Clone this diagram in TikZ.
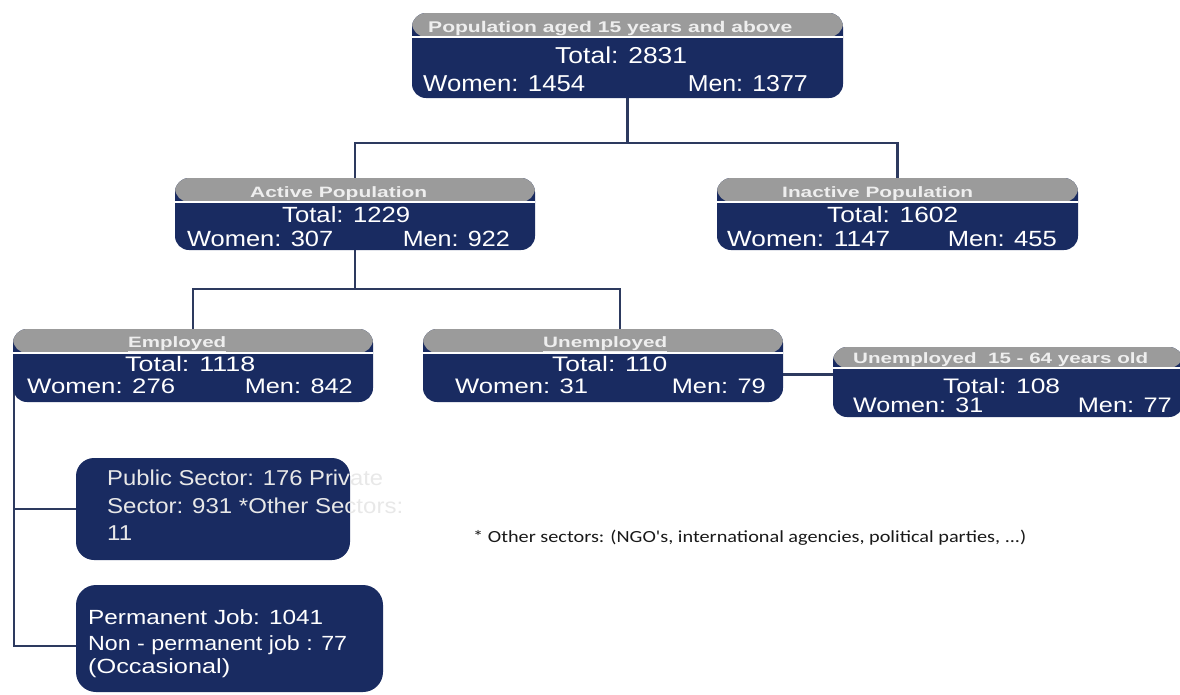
\documentclass[tikz,border=0pt]{standalone}
\usepackage{fontspec}
\usepackage{graphicx}
\setmainfont{Liberation Sans}
\newfontfamily\notefont{Carlito}
\usetikzlibrary{backgrounds}
\definecolor{navy}{RGB}{25,43,97}
\definecolor{hdrgray}{RGB}{155,155,155}
\definecolor{hdrtext}{RGB}{238,238,238}
\definecolor{conn}{RGB}{45,58,95}
\definecolor{notetext}{RGB}{25,25,25}
\newcommand{\fitw}[2]{\resizebox{#1}{\height}{#2}}
\tikzset{
  navybox/.style={fill=navy, rounded corners=14pt, inner sep=0pt, draw=none},
  hdr/.style={path picture={
      \fill[hdrgray] ([yshift=2pt]path picture bounding box.north west) rectangle ([yshift=-#1]path picture bounding box.north east);
      \draw[white, line width=1.2pt] ([yshift=-#1]path picture bounding box.north west) -- ([yshift=-#1]path picture bounding box.north east);}},
  hd/.style={inner sep=0pt, text=hdrtext, font=\bfseries\fontsize{15}{17}\selectfont},
  txt/.style={inner sep=0pt, text=white},
  conn/.style={draw=conn, line width=2.3pt},
}
\begin{document}
\begin{tikzpicture}[x=1pt, y=-1pt]
\useasboundingbox (0,0) rectangle (1180,694);
% top box
\node[navybox, hdr=24pt, minimum width=431pt, minimum height=85pt] (top) at (627.5,55.5) {};
\node[hd, anchor=base west, font=\bfseries\fontsize{15.5}{17}\selectfont] (tophd) at (428,32) {\fitw{364pt}{Population aged 15 years and above}};
\node[txt, anchor=base west, font=\fontsize{23}{27}\selectfont] (toptot) at (555,63) {\fitw{132pt}{Total: 2831}};
\node[txt, anchor=base west, font=\fontsize{23}{27}\selectfont] (topw) at (423,91) {\fitw{162pt}{Women: 1454}};
\node[txt, anchor=base east, font=\fontsize{23}{27}\selectfont] (topm) at (808,91) {\fitw{120pt}{Men: 1377}};
% active
\node[navybox, hdr=24pt, minimum width=360pt, minimum height=72pt] (active) at (355,214) {};
\node[hd, anchor=base west] (acthd) at (250,197) {\fitw{177pt}{Active Population}};
\node[txt, anchor=base west, font=\fontsize{22}{26}\selectfont] (acttot) at (282,222) {\fitw{128pt}{Total: 1229}};
\node[txt, anchor=base west, font=\fontsize{22}{26}\selectfont] (actw) at (187,246) {\fitw{146pt}{Women: 307}};
\node[txt, anchor=base east, font=\fontsize{22}{26}\selectfont] (actm) at (510,246) {\fitw{107pt}{Men: 922}};
% inactive
\node[navybox, hdr=24pt, minimum width=361pt, minimum height=72pt] (inactive) at (897.5,214) {};
\node[hd, anchor=base west] (inahd) at (782,197) {\fitw{191pt}{Inactive Population}};
\node[txt, anchor=base west, font=\fontsize{22}{26}\selectfont] (inatot) at (827,222) {\fitw{131pt}{Total: 1602}};
\node[txt, anchor=base west, font=\fontsize{22}{26}\selectfont] (inaw) at (727,246) {\fitw{163pt}{Women: 1147}};
\node[txt, anchor=base east, font=\fontsize{22}{26}\selectfont] (inam) at (1057,246) {\fitw{109pt}{Men: 455}};
% employed
\node[navybox, hdr=24pt, minimum width=360pt, minimum height=73pt] (employed) at (193,365.5) {};
\node[hd, anchor=base west] (emphd) at (128,347) {\fitw{98pt}{\underline{Employed}}};
\node[txt, anchor=base west, font=\fontsize{21}{25}\selectfont] (emptot) at (125,371) {\fitw{130pt}{Total: 1118}};
\node[txt, anchor=base west, font=\fontsize{21}{25}\selectfont] (empw) at (27,393) {\fitw{148pt}{Women: 276}};
\node[txt, anchor=base east, font=\fontsize{21}{25}\selectfont] (empm) at (353,393) {\fitw{108pt}{Men: 842}};
% unemployed
\node[navybox, hdr=24pt, minimum width=360pt, minimum height=73pt] (unemployed) at (603,365.5) {};
\node[hd, anchor=base west] (unhd) at (543,347) {\fitw{124pt}{\underline{Unemployed}}};
\node[txt, anchor=base west, font=\fontsize{21}{25}\selectfont] (untot) at (552,371) {\fitw{115pt}{Total: 110}};
\node[txt, anchor=base west, font=\fontsize{21}{25}\selectfont] (unw) at (455,393) {\fitw{133pt}{Women: 31}};
\node[txt, anchor=base east, font=\fontsize{21}{25}\selectfont] (unm) at (766,393) {\fitw{94pt}{Men: 79}};
% unemployed 15-64
\node[navybox, hdr=21pt, minimum width=350pt, minimum height=70pt] (ufift) at (1008,382) {};
\node[hd, anchor=base west] (u15hd) at (853,363) {\fitw{295pt}{Unemployed~~15 - 64 years old}};
\node[txt, anchor=base west, font=\fontsize{21}{25}\selectfont] (u15tot) at (943,393) {\fitw{117pt}{Total: 108}};
\node[txt, anchor=base west, font=\fontsize{21}{25}\selectfont] (u15w) at (853,412) {\fitw{130pt}{Women: 31}};
\node[txt, anchor=base east, font=\fontsize{21}{25}\selectfont] (u15m) at (1172,412) {\fitw{94pt}{Men: 77}};
% sector box
\node[navybox, rounded corners=18pt, minimum width=274pt, minimum height=102pt] (sector) at (213,509) {};
\node[txt, text=white!91!black, anchor=base west, font=\fontsize{21.5}{25}\selectfont] (sec1) at (107,485) {\fitw{276pt}{Public Sector: 176 Private}};
\node[txt, text=white!91!black, anchor=base west, font=\fontsize{21.5}{25}\selectfont] (sec2) at (107,513) {\fitw{296pt}{Sector: 931 *Other Sectors:}};
\node[txt, text=white!91!black, anchor=base west, font=\fontsize{21.5}{25}\selectfont] (sec3) at (107,540) {\fitw{25pt}{11}};
% permanent box
\node[navybox, rounded corners=20pt, minimum width=307pt, minimum height=107pt] (perm) at (229.5,638.5) {};
\node[txt, anchor=base west, font=\fontsize{20.5}{24}\selectfont] (per1) at (88,624) {\fitw{235pt}{Permanent Job: 1041}};
\node[txt, anchor=base west, font=\fontsize{20.5}{24}\selectfont] (per2) at (88,650) {\fitw{259pt}{Non - permanent job : 77}};
\node[txt, anchor=base west, font=\fontsize{20.5}{24}\selectfont] (per3) at (88,673) {\fitw{142pt}{(Occasional)}};
% footnote
\node[inner sep=0pt, text=notetext, anchor=base west, font=\notefont\fontsize{17}{19}\selectfont] (note) at (473,542) {\fitw{553pt}{* Other sectors: (NGO's, international agencies, political parties, ...)}};
% connectors
\coordinate (trunk) at ([xshift=1pt,yshift=12pt]employed.south west);
\begin{scope}[on background layer]
\draw[conn] (top.south) -- ++(0,45) -| (active.north);
\draw[conn] (top.south) -- ++(0,45) -| (inactive.north);
\draw[conn] (active.south) -- ++(0,39) -| (employed.north);
\draw[conn] (active.south) -- ++(0,39) -| ([xshift=17pt]unemployed.north);
\draw[conn] ([yshift=-9pt]unemployed.east) -- ([yshift=-9pt]unemployed.east -| ufift.west);
\draw[conn] (trunk) |- ([yshift=-7.5pt]perm.west);
\draw[conn] (trunk |- sector.west) -- (sector.west);
\end{scope}
\end{tikzpicture}
\end{document}
